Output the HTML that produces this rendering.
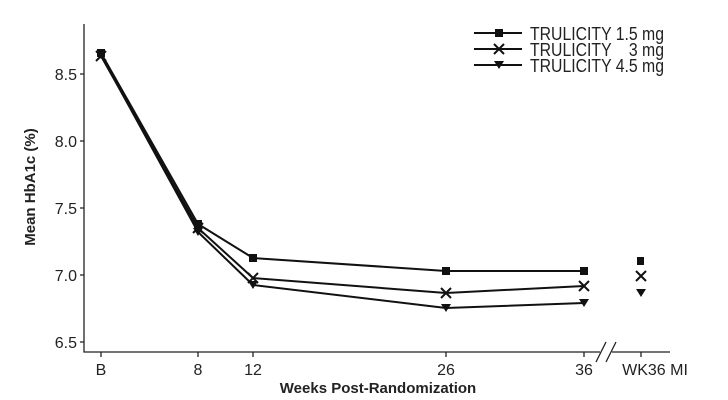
<!DOCTYPE html>
<html><head><style>body{margin:0;background:#fff}svg{display:block}</style></head><body>
<svg width="728" height="400" xmlns="http://www.w3.org/2000/svg" font-family="Liberation Sans, Arial, sans-serif">
<g stroke="#222" stroke-width="1.3" fill="none">
<path d="M84,24 V352 H600 M612,352 H670"/>
<path d="M80,74H84M80,141H84M80,208H84M80,275H84M80,342H84"/>
<path d="M101,352v5M198,352v5M253,352v5M446,352v5M584,352v5M641,352v5"/>
<path d="M596,362 L606,342 M606,362 L616,342"/>
</g>
<g font-size="16" fill="#222" text-anchor="end">
<text x="77" y="80">8.5</text><text x="77" y="147">8.0</text><text x="77" y="214">7.5</text><text x="77" y="281">7.0</text><text x="77" y="348">6.5</text>
</g>
<g font-size="16" fill="#222" text-anchor="middle">
<text x="101" y="375">B</text><text x="198" y="375">8</text><text x="253" y="375">12</text><text x="446" y="375">26</text><text x="584" y="375">36</text><text x="655" y="375">WK36 MI</text>
</g>
<text x="378" y="393" font-size="15" font-weight="bold" text-anchor="middle" fill="#222">Weeks Post-Randomization</text>
<text transform="translate(35,187) rotate(-90)" font-size="15" font-weight="bold" text-anchor="middle" fill="#222">Mean HbA1c (%)</text>
<g stroke="#111" stroke-width="2" fill="none">
<polyline points="101,53 198,224 253,258 446,271 584,271"/>
<polyline points="101,56 198,228 253,278 446,293 584,286"/>
<polyline points="101,55 198,232 253,285 446,308 584,303"/>
<path d="M474,33H522M474,49H522M474,65H522"/>
</g>
<g fill="#111">
<rect x="97" y="49" width="8" height="8"/><rect x="194" y="220" width="8" height="8"/><rect x="249" y="254" width="8" height="8"/><rect x="442" y="267" width="8" height="8"/><rect x="580" y="267" width="8" height="8"/><rect x="637" y="257" width="7" height="8"/><rect x="495" y="29" width="8" height="8"/>
<path d="M96,51h10l-5,8zM193,228h10l-5,8zM248,281h10l-5,8zM441,304h10l-5,8zM579,299h10l-5,8zM636,289h10l-5,8zM494,61h10l-5,8z"/>
</g>
<g stroke="#111" stroke-width="2">
<path d="M96,51l10,10M106,51l-10,10M193,223l10,10M203,223l-10,10M248,273l10,10M258,273l-10,10M441,288l10,10M451,288l-10,10M579,281l10,10M589,281l-10,10M636,271l10,10M646,271l-10,10M494,44l10,10M504,44l-10,10"/>
</g>
<g font-size="18" fill="#222">
<text x="530" y="40" textLength="134" lengthAdjust="spacingAndGlyphs">TRULICITY 1.5 mg</text>
<text x="530" y="56" textLength="134" lengthAdjust="spacingAndGlyphs" xml:space="preserve">TRULICITY    3 mg</text>
<text x="530" y="72" textLength="134" lengthAdjust="spacingAndGlyphs">TRULICITY 4.5 mg</text>
</g>
</svg>
</body></html>
